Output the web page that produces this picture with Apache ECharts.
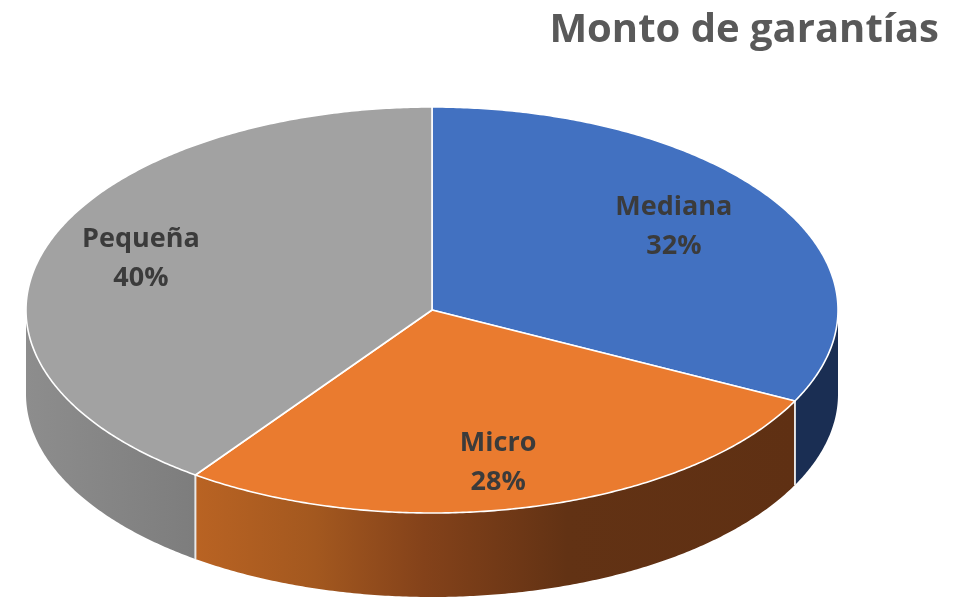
<!DOCTYPE html>
<html><head><meta charset="utf-8">
<style>html,body{margin:0;padding:0;background:#fff}#c{width:969px;height:597px}</style>
<script src="https://cdn.jsdelivr.net/npm/echarts@6/dist/echarts.min.js"></script>
</head><body><div id="c"></div>
<script>
const categories = ['Mediana', 'Micro', 'Pequeña'];
const values = [32.4, 27.5, 40.1];
const topColors = ['#4271c1', '#ea7b2f', '#a2a2a2'];

const geo = {cx: 432, cy: 310, rx: 406, ry: 203, depth: 84};
const sideStops = [
  [[0, '#1a2e53'], [1, '#1a2e53']],
  [[0, '#b96323'], [0.2, '#a3581f'], [0.38, '#84421a'], [0.62, '#623214'], [1, '#5f3013']],
  [[0, '#8d8d8d'], [1, '#7d7d7d']]
];
const labelFrac = [[0.70, 0.779], [0.68, 0.777], [0.753, 0.82]];
const total = values.reduce((a, b) => a + b, 0);
const pt = (deg, dy) => {
  const t = deg * Math.PI / 180;
  return [geo.cx + geo.rx * Math.sin(t), geo.cy - geo.ry * Math.cos(t) + (dy || 0)];
};
const arc = (a, b, dy) => {
  const out = [];
  const n = Math.max(2, Math.ceil(Math.abs(b - a) * 2));
  for (let i = 0; i <= n; i++) out.push(pt(a + (b - a) * i / n, dy));
  return out;
};

function renderItem(params, api) {
  const i = params.dataIndex;
  let before = 0;
  for (let k = 0; k < i; k++) before += values[k];
  const a = before / total * 360;
  const b = (before + api.value(0)) / total * 360;
  const children = [];
  // visible wall: part of the slice on the front half of the ellipse
  const sa = Math.max(a, 90), sb = Math.min(b, 270);
  if (sb > sa) {
    const front = arc(sa, sb, 0);
    const wall = front.concat(arc(sb, sa, geo.depth));
    const xs = front.map(p => p[0]);
    const x0 = Math.min.apply(null, xs), x1 = Math.max.apply(null, xs);
    const stops = sideStops[i].map(s => ({offset: s[0], color: s[1]}));
    // gradient runs left to right across the wall
    children.push({
      type: 'polygon', shape: {points: wall},
      style: {fill: {type: 'linear', x: x0, y: 0, x2: x1, y2: 0, global: true,
        colorStops: stops}, stroke: null}
    });
  }
  // seams on the wall
  [a, b].forEach(d => {
    if (d > 90 && d < 270) {
      const p = pt(d, 0), q = pt(d, geo.depth);
      children.push({type: 'line', shape: {x1: p[0], y1: p[1], x2: q[0], y2: q[1]},
        style: {stroke: '#e8e8e8', lineWidth: 1.6}, z2: 3});
    }
  });
  // top face
  const top = [[geo.cx, geo.cy]].concat(arc(a, b, 0));
  children.push({type: 'polygon', shape: {points: top},
    style: {fill: topColors[i], stroke: '#ffffff', lineWidth: 1.6, lineJoin: 'round'}, z2: 5});
  // label
  const m = (a + b) / 2 * Math.PI / 180;
  const f = labelFrac[i];
  children.push({type: 'text', z2: 10,
    x: geo.cx + geo.rx * f[0] * Math.sin(m), y: geo.cy - geo.ry * f[1] * Math.cos(m),
    style: {text: categories[i] + '\n' + Math.round(api.value(0) / total * 100) + '%',
      fill: '#3b3b3b', font: 'bold 27px "Open Sans"', lineHeight: 39,
      align: 'center', verticalAlign: 'middle'}});
  return {type: 'group', children};
}

const chart = echarts.init(document.getElementById('c'), null, {renderer: 'canvas'});
chart.setOption({
  animation: false,
  backgroundColor: '#ffffff',
  title: {text: 'Monto de garantías', right: 25, top: 6,
    textStyle: {color: '#595959', fontFamily: 'Open Sans', fontWeight: 'bold', fontSize: 40}},
  tooltip: {show: false},
  series: [{type: 'custom', coordinateSystem: 'none', renderItem,
    data: values.map(v => [v])}]
});
</script></body></html>
